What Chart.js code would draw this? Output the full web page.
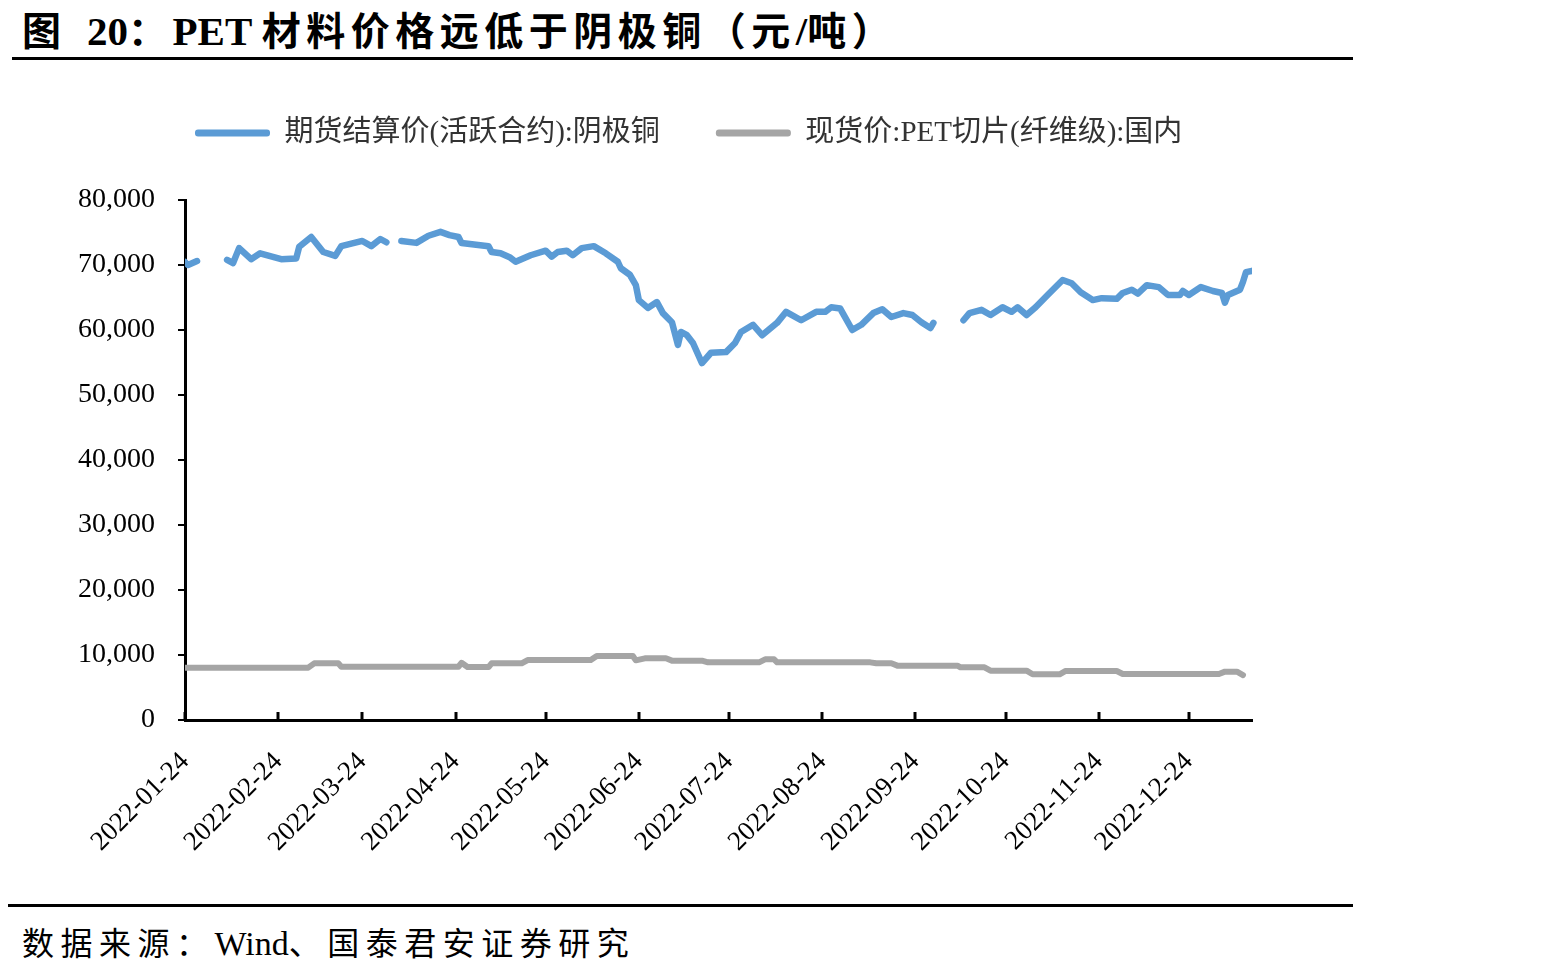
<!DOCTYPE html>
<html>
<head>
<meta charset="utf-8">
<script src="https://cdn.jsdelivr.net/npm/chart.js@4.4.1/dist/chart.umd.min.js"></script>
<style>
  html, body { margin: 0; padding: 0; background: #fff; }
  body { width: 1567px; height: 975px; position: relative; overflow: hidden; }
  #title { position: absolute; left: 22px; top: 0px; font-family: "Liberation Serif", "Noto Sans CJK SC", serif; font-weight: bold; font-size: 39px; color: #000; white-space: nowrap; }
  #title .cjk { letter-spacing: 5.5px; }
  #title .lat { font-size: 41px; letter-spacing: 0; }
  #rule1 { position: absolute; left: 12px; top: 57px; width: 1341px; height: 3px; background: #000; }
  #rule2 { position: absolute; left: 8px; top: 904px; width: 1345px; height: 3px; background: #000; }
  #source { position: absolute; left: 22px; top: 918px; font-family: "Liberation Serif", "Noto Sans CJK SC", serif; font-size: 32px; color: #000; white-space: nowrap; }
  #source .cjk { letter-spacing: 6.5px; }
  #source .lat { font-size: 34px; letter-spacing: 0; }
  #c { position: absolute; left: 0; top: 0; }
</style>
</head>
<body>
<div id="title"><span class="cjk">图</span><span class="lat">&nbsp;&nbsp;20</span><span class="cjk">：</span><span class="lat">PET </span><span class="cjk">材料价格远低于阴极铜（元</span><span class="lat">/</span><span class="cjk">吨）</span></div>
<div id="rule1"></div>
<canvas id="c" width="1370" height="880"></canvas>
<div id="rule2"></div>
<div id="source"><span class="cjk">数据来源：</span><span class="lat">Wind</span><span class="cjk">、国泰君安证券研究</span></div>
<script>
// ---- data (x = days since 2022-01-24) ----
const seriesNames = ['期货结算价(活跃合约):阴极铜', '现货价:PET切片(纤维级):国内'];
const startDate = '2022-01-24';
const tickLabels = ['2022-01-24','2022-02-24','2022-03-24','2022-04-24','2022-05-24','2022-06-24','2022-07-24','2022-08-24','2022-09-24','2022-10-24','2022-11-24','2022-12-24'];
const axisEndDay = 355;

const copperDays = [0,1,4,8,14,16,18,22,25,32,37,38,42,46,50,52,59,62,65,67,69,72,77,81,85,88,91,92,101,102,105,108,110,115,120,122,124,127,129,132,136,140,144,145,148,150,151,154,157,159,162,164,165,167,169,172,175,180,183,185,189,192,197,200,205,210,213,215,218,222,225,229,232,235,239,242,245,248,249,252,259,261,265,268,272,275,277,280,283,287,292,295,298,302,305,310,312,315,317,320,324,327,331,332,334,338,342,345,346,347,351,352,353,355];
const copperValues = [70460,70000,70600,null,70800,70300,72600,70900,71800,70900,71000,72800,74300,72000,71400,72900,73700,72900,74000,73500,null,73700,73400,74500,75100,74600,74300,73400,72900,72000,71800,71200,70500,71500,72200,71300,72000,72200,71500,72600,72900,71800,70500,69500,68500,66900,64600,63400,64300,62600,61200,57700,59700,59200,58000,54900,56500,56600,58000,59700,60800,59200,61100,62800,61500,62800,62800,63500,63300,60000,60800,62600,63200,62000,62600,62300,61200,60300,61100,null,61500,62600,63100,62300,63500,62800,63500,62300,63500,65400,67700,67200,65800,64600,64900,64800,65700,66200,65600,66900,66600,65400,65400,66000,65400,66600,66000,65700,64200,65400,66200,67400,68900,69100];

const petDays = [0,41,43,51,52,91,92,94,101,102,112,114,135,137,149,150,153,160,162,172,174,191,193,196,197,228,230,235,237,257,258,266,268,280,282,291,293,310,312,344,346,350,352];
const petValues = [8050,8050,8720,8720,8200,8200,8800,8150,8150,8720,8720,9230,9230,9850,9850,9180,9490,9490,9130,9130,8870,8870,9330,9330,8870,8870,8720,8720,8360,8360,8100,8100,7590,7590,7030,7030,7540,7540,7080,7080,7440,7440,6920];

// ---- helpers ----
const DAY = 86400000;
const t0 = Date.parse(startDate + 'T00:00:00Z');
const tickDays = tickLabels.map(s => Math.round((Date.parse(s + 'T00:00:00Z') - t0) / DAY));
const toPoints = (xs, ys) => xs.map((x, i) => ({ x: x, y: ys[i] }));

const LEGEND_PAD = 56;
const layoutPlugin = {
  id: 'layoutTweaks',
  afterInit(chart) {
    const lg = chart.legend;
    const orig = lg.fit;
    lg.fit = function () { orig.call(this); this.height = 200; };
  },
  afterLayout(chart) {
    const lg = chart.legend;
    const dx = 195 - LEGEND_PAD - lg.left;
    const dy = 136 - LEGEND_PAD - (lg._itemHeight || 35) / 2 - lg.top;
    lg.left += dx; lg.right += dx; lg.top += dy; lg.bottom += dy;
  },
  afterDraw(chart) {
    const xs = chart.scales.x;
    const ctx = chart.ctx;
    const bottom = chart.chartArea.bottom;
    ctx.save();
    ctx.strokeStyle = '#000';
    ctx.lineWidth = 3;
    tickDays.forEach(d => {
      const px = Math.round(xs.getPixelForValue(d));
      ctx.beginPath();
      ctx.moveTo(px, bottom);
      ctx.lineTo(px, bottom - 8);
      ctx.stroke();
    });
    ctx.restore();
  }
};

new Chart(document.getElementById('c'), {
  type: 'line',
  data: {
    datasets: [
      {
        label: seriesNames[0],
        data: toPoints(copperDays, copperValues),
        borderColor: '#5B9BD5',
        backgroundColor: '#5B9BD5',
        borderWidth: 6.5,
        pointRadius: 0,
        tension: 0,
        spanGaps: false,
        borderCapStyle: 'round',
        borderJoinStyle: 'round'
      },
      {
        label: seriesNames[1],
        data: toPoints(petDays, petValues),
        borderColor: '#A5A5A5',
        backgroundColor: '#A5A5A5',
        borderWidth: 6,
        pointRadius: 0,
        tension: 0,
        borderCapStyle: 'round',
        borderJoinStyle: 'round'
      }
    ]
  },
  options: {
    responsive: false,
    animation: false,
    devicePixelRatio: 1,
    layout: { padding: { left: 0, right: 118, top: 0, bottom: 0 } },
    plugins: {
      tooltip: { enabled: false },
      legend: {
        display: true,
        position: 'top',
        align: 'start',
        labels: {
          boxWidth: 75,
          boxHeight: 7,
          padding: LEGEND_PAD,
          color: '#333',
          font: { family: '"Liberation Serif", "Noto Sans CJK SC", serif', size: 29 },
          useBorderRadius: true,
          borderRadius: 3,
          generateLabels: (chart) => Chart.defaults.plugins.legend.labels.generateLabels(chart).map(l => Object.assign(l, { lineWidth: 0 }))
        }
      }
    },
    scales: {
      x: {
        type: 'linear',
        min: 0,
        max: axisEndDay,
        afterBuildTicks: (axis) => { axis.ticks = tickDays.map(v => ({ value: v })); },
        afterFit: (axis) => { axis.height = 160; },
        grid: { display: false },
        border: { display: true, color: '#000', width: 3 },
        ticks: {
          autoSkip: false,
          minRotation: 45,
          maxRotation: 45,
          padding: 18,
          color: '#000',
          font: { family: '"Liberation Serif", serif', size: 27 },
          callback: (v) => { const i = tickDays.indexOf(v); return i >= 0 ? tickLabels[i] : ''; }
        }
      },
      y: {
        min: 0,
        max: 80000,
        afterFit: (axis) => { axis.width = 185; },
        grid: { display: true, drawOnChartArea: false, drawTicks: true, tickLength: 7, color: '#000', lineWidth: 2 },
        border: { display: true, color: '#000', width: 3 },
        ticks: {
          stepSize: 10000,
          padding: 23,
          color: '#000',
          font: { family: '"Liberation Serif", serif', size: 28 },
          callback: (v) => v.toLocaleString('en-US')
        }
      }
    }
  },
  plugins: [layoutPlugin]
});
</script>
</body>
</html>
